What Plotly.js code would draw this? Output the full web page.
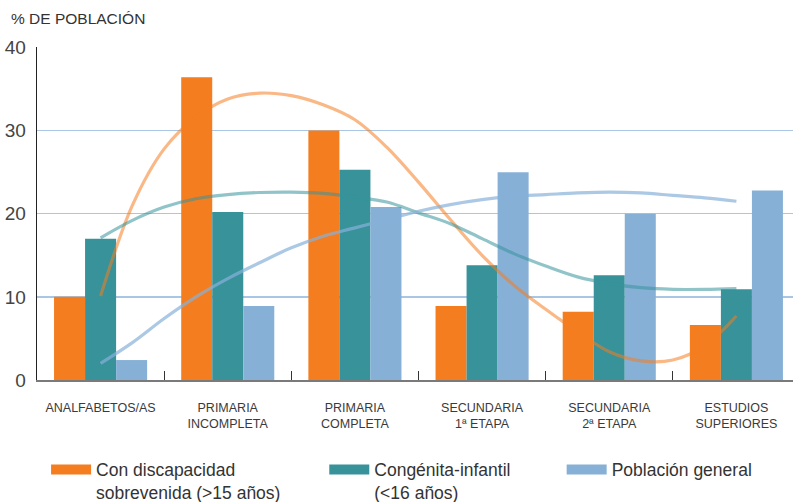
<!DOCTYPE html>
<html>
<head>
<meta charset="utf-8">
<script src="https://cdn.plot.ly/plotly-3.0.1.min.js"></script>
<style>html,body{margin:0;padding:0;background:#fff;overflow:hidden}#chart{width:793px;height:502px}</style>
</head>
<body>
<div id="chart"></div>
<script>
// ---- data ----
const categories = ["ANALFABETOS/AS", "PRIMARIA<br>INCOMPLETA", "PRIMARIA<br>COMPLETA", "SECUNDARIA<br>1ª ETAPA", "SECUNDARIA<br>2ª ETAPA", "ESTUDIOS<br>SUPERIORES"];
const seriesNames = ["Con discapacidad<br>sobrevenida (>15 años)", "Congénita-infantil<br>(<16 años)", "Población general"];
const sobrevenida = [10.0, 36.4, 30.0, 8.9, 8.2, 6.6];
const congenita = [17.0, 20.2, 25.3, 13.8, 12.6, 10.9];
const general = [2.4, 8.9, 20.8, 25.0, 20.0, 22.8];
// trend lines, at these category positions
const trendX = [0, 0.25, 0.5, 0.75, 1, 1.25, 1.5, 1.75, 2, 2.25, 2.5, 2.75, 3, 3.25, 3.5, 3.75, 4, 4.25, 4.5, 4.75, 5];
const trendSobrevenida = [10.1, 21.0, 27.8, 31.6, 33.8, 34.5, 34.2, 33.1, 31.3, 28.0, 23.8, 19.3, 15.0, 11.4, 8.5, 5.8, 3.4, 2.3, 2.4, 4.1, 7.7];
const trendCongenita = [17.1, 19.2, 20.8, 21.8, 22.3, 22.55, 22.6, 22.45, 22.0, 21.4, 20.1, 18.8, 17.0, 15.2, 13.7, 12.4, 11.6, 11.1, 10.9, 10.9, 11.0];
const trendGeneral = [2.0, 4.5, 7.4, 10.0, 12.2, 14.1, 15.9, 17.3, 18.3, 19.3, 20.3, 21.1, 21.7, 22.1, 22.3, 22.5, 22.6, 22.5, 22.2, 21.9, 21.5];
const yTicks = [0, 10, 20, 30, 40];

// ---- styles ----
const colors = ["#f47d20", "#37929a", "#87b0d7"];
const trendColors = ["rgba(244,125,32,0.55)", "rgba(55,147,154,0.55)", "rgba(135,177,216,0.7)"];
const legendX = [0.012, 0.38, 0.694];
const legendIds = ["legend", "legend2", "legend3"];
const catPos = categories.map((_, i) => i);
const dividers = categories.slice(1).map((_, i) => i + 0.5);

const values = [sobrevenida, congenita, general];
const trends = [trendSobrevenida, trendCongenita, trendGeneral];

const traces = [];
values.forEach((v, k) => {
  traces.push({
    type: "bar", x: catPos, y: v, name: seriesNames[k],
    marker: {color: colors[k], line: {width: 0}},
    showlegend: false, hoverinfo: "skip"
  });
});
trends.forEach((t, k) => {
  traces.push({
    type: "scatter", mode: "lines", x: trendX, y: t,
    line: {color: trendColors[k], width: 3.2, shape: "spline", smoothing: 1},
    showlegend: false, hoverinfo: "skip"
  });
});
// legend swatches
seriesNames.forEach((n, k) => {
  traces.push({
    type: "scatter", mode: "lines", x: [null], y: [null], name: n,
    line: {color: colors[k], width: 12}, showlegend: true, legend: legendIds[k]
  });
});

const legendFont = {family: "Liberation Sans, Arial", size: 17.5, color: "#333"};
const mkLegend = (x) => ({
  orientation: "h", x: x, xanchor: "left", y: -0.215, yanchor: "top",
  valign: "top", itemwidth: 40, font: legendFont, bgcolor: "rgba(0,0,0,0)"
});

const layout = {
  width: 793, height: 502,
  margin: {l: 37, r: 0, t: 47, b: 122, pad: 0, autoexpand: false},
  paper_bgcolor: "#fff", plot_bgcolor: "#fff",
  font: {family: "Liberation Sans, Arial, sans-serif", color: "#3a3a3a"},
  barmode: "group", bargap: 0.268, bargroupgap: 0,
  xaxis: {
    range: [-0.5, 5.445], tickmode: "array", tickvals: catPos, ticktext: categories,
    ticks: "", showgrid: false, zeroline: false,
    showline: true, linecolor: "#7a7a7a", linewidth: 2,
    tickfont: {family: "Liberation Sans, Arial", size: 12.5, color: "#3a3a3a"},
    ticklabelstandoff: 15,
    minor: {tickmode: "array", tickvals: dividers, ticks: "inside", ticklen: 9, tickwidth: 1.2, tickcolor: "#333", showgrid: false}
  },
  yaxis: {
    range: [0, 40.05], tickmode: "array", tickvals: yTicks,
    showgrid: true, gridcolor: "#a9c6e4", gridwidth: 1.3,
    zeroline: false, showline: true, linecolor: "#222", linewidth: 1.3,
    ticks: "", ticklabelstandoff: 6,
    tickfont: {family: "Liberation Sans, Arial", size: 19, color: "#444"}
  },
  legend: mkLegend(legendX[0]),
  legend2: mkLegend(legendX[1]),
  legend3: mkLegend(legendX[2]),
  annotations: [{
    text: "% DE POBLACIÓN", xref: "paper", yref: "paper",
    x: -0.037, xanchor: "left", y: 1.087, yanchor: "middle",
    showarrow: false, font: {family: "Liberation Sans, Arial", size: 15.5, color: "#333"}
  }]
};

Plotly.newPlot("chart", traces, layout, {displayModeBar: false, staticPlot: true});
</script>
</body>
</html>
